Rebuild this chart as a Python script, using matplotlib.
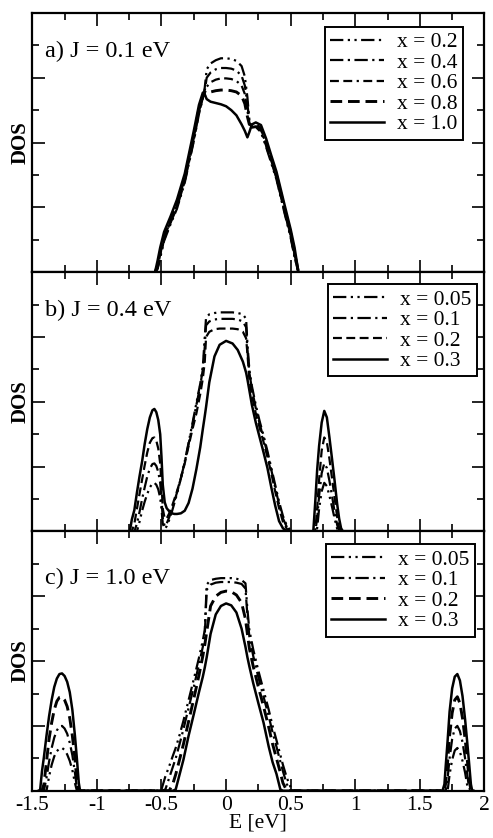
import numpy as np
import matplotlib.pyplot as plt
from matplotlib.ticker import MultipleLocator

plt.rcParams['font.family'] = ['Liberation Serif', 'DejaVu Serif']
plt.rcParams['font.size'] = 15.5
plt.rcParams['axes.unicode_minus'] = False

# ---------------- panel a) J = 0.1 eV ----------------
E_a = [-0.55, -0.53, -0.51, -0.48, -0.43, -0.38, -0.32, -0.25, -0.21, -0.18,
       -0.165, -0.15, -0.12, -0.08, -0.04, 0.0, 0.04, 0.08, 0.12, 0.145,
       0.165, 0.18, 0.20, 0.23, 0.27, 0.31, 0.35, 0.39, 0.45, 0.50,
       0.53, 0.56]
D_a02 = [0, 0.05, 0.22, 0.48, 0.74, 0.98, 1.38, 2.02, 2.44, 2.68,
         2.85, 3.13, 3.22, 3.27, 3.30, 3.30, 3.29, 3.26, 3.18, 3.02,
         2.70, 2.35, 2.23, 2.24, 2.16, 1.93, 1.68, 1.43, 0.93, 0.53,
         0.23, 0]
D_a04 = [0, 0.06, 0.24, 0.50, 0.76, 1.00, 1.40, 2.04, 2.46, 2.69,
         2.80, 3.00, 3.08, 3.13, 3.15, 3.15, 3.14, 3.11, 3.03, 2.88,
         2.60, 2.32, 2.24, 2.25, 2.18, 1.95, 1.70, 1.45, 0.95, 0.55,
         0.25, 0]
D_a06 = [0, 0.08, 0.27, 0.52, 0.78, 1.03, 1.43, 2.07, 2.48, 2.70,
         2.76, 2.86, 2.93, 2.97, 2.99, 2.99, 2.98, 2.95, 2.88, 2.75,
         2.50, 2.30, 2.25, 2.26, 2.20, 1.97, 1.72, 1.47, 0.97, 0.57,
         0.27, 0]
D_a08 = [0, 0.10, 0.30, 0.55, 0.80, 1.06, 1.46, 2.10, 2.52, 2.72,
         2.74, 2.75, 2.78, 2.80, 2.81, 2.81, 2.80, 2.78, 2.72, 2.60,
         2.40, 2.28, 2.27, 2.28, 2.22, 2.00, 1.75, 1.50, 1.00, 0.60,
         0.30, 0]
D_a10 = [0, 0.18, 0.38, 0.62, 0.86, 1.12, 1.52, 2.18, 2.58, 2.77,
         2.74, 2.67, 2.63, 2.61, 2.59, 2.56, 2.50, 2.42, 2.28, 2.18,
         2.08, 2.16, 2.28, 2.31, 2.27, 2.06, 1.80, 1.55, 1.06, 0.66,
         0.38, 0]

# ---------------- panel b) J = 0.4 eV ----------------
E_b = [-0.76, -0.745, -0.73, -0.71, -0.69, -0.67, -0.65, -0.63, -0.61, -0.59,
       -0.57, -0.555, -0.54, -0.525, -0.51, -0.50, -0.49, -0.475, -0.46, -0.44,
       -0.42, -0.40, -0.38, -0.35, -0.32, -0.29, -0.26, -0.23, -0.20, -0.18,
       -0.165, -0.155, -0.13, -0.09, -0.05, 0.0, 0.05, 0.09, 0.13, 0.155,
       0.165, 0.18, 0.20, 0.23, 0.26, 0.29, 0.32, 0.35, 0.38, 0.41,
       0.44, 0.47, 0.50, 0.52, 0.66, 0.675, 0.69, 0.705, 0.72, 0.74,
       0.76, 0.78, 0.80, 0.82, 0.84, 0.86, 0.875, 0.89, 0.905, 0.92]
D_b005 = [0, 0, 0, 0, 0, 0.15, 0.32, 0.46, 0.58, 0.68,
          0.74, 0.75, 0.72, 0.65, 0.52, 0.35, 0.12, 0.04, 0.08, 0.18,
          0.30, 0.44, 0.58, 0.82, 1.08, 1.37, 1.67, 1.98, 2.28, 2.54,
          3.00, 3.30, 3.35, 3.37, 3.38, 3.38, 3.38, 3.37, 3.35, 3.28,
          2.90, 2.50, 2.24, 1.95, 1.70, 1.48, 1.24, 0.98, 0.72, 0.46,
          0.24, 0.09, 0.01, 0, 0, 0, 0, 0.05, 0.35, 0.62,
          0.75, 0.70, 0.55, 0.38, 0.20, 0.04, 0, 0, 0, 0]
D_b01 = [0, 0, 0, 0, 0.12, 0.30, 0.50, 0.68, 0.85, 0.97,
         1.04, 1.05, 1.01, 0.92, 0.75, 0.50, 0.20, 0.08, 0.12, 0.22,
         0.34, 0.47, 0.60, 0.82, 1.07, 1.35, 1.64, 1.95, 2.25, 2.50,
         2.85, 3.18, 3.24, 3.27, 3.28, 3.28, 3.28, 3.27, 3.24, 3.15,
         2.80, 2.45, 2.20, 1.90, 1.66, 1.44, 1.20, 0.95, 0.68, 0.42,
         0.20, 0.07, 0, 0, 0, 0, 0, 0.20, 0.55, 0.90,
         1.05, 0.98, 0.78, 0.55, 0.30, 0.10, 0, 0, 0, 0]
D_b02 = [0, 0, 0, 0.12, 0.35, 0.58, 0.80, 1.02, 1.22, 1.37,
         1.44, 1.45, 1.40, 1.28, 1.05, 0.75, 0.35, 0.20, 0.20, 0.28,
         0.38, 0.50, 0.62, 0.82, 1.05, 1.32, 1.58, 1.82, 2.12, 2.36,
         2.62, 3.00, 3.08, 3.12, 3.13, 3.13, 3.13, 3.12, 3.08, 2.98,
         2.75, 2.35, 2.10, 1.82, 1.60, 1.38, 1.15, 0.90, 0.62, 0.36,
         0.15, 0.04, 0, 0, 0, 0, 0, 0.35, 0.80, 1.25,
         1.45, 1.38, 1.12, 0.82, 0.52, 0.22, 0.05, 0, 0, 0]
D_b03 = [0, 0, 0.18, 0.33, 0.60, 0.85, 1.08, 1.35, 1.58, 1.76,
         1.87, 1.89, 1.84, 1.72, 1.50, 1.15, 0.72, 0.45, 0.36, 0.31,
         0.28, 0.27, 0.27, 0.28, 0.32, 0.44, 0.66, 0.96, 1.30, 1.58,
         1.78, 1.92, 2.30, 2.70, 2.88, 2.94, 2.90, 2.80, 2.62, 2.45,
         2.35, 2.18, 1.95, 1.68, 1.45, 1.22, 0.98, 0.68, 0.40, 0.16,
         0.05, 0, 0, 0, 0, 0, 0.45, 0.95, 1.32, 1.68,
         1.86, 1.76, 1.45, 1.12, 0.78, 0.42, 0.20, 0.05, 0, 0]

# ---------------- panel c) J = 1.0 eV ----------------
E_c_left = [-1.45, -1.44, -1.425, -1.41, -1.39, -1.37, -1.35, -1.33, -1.31, -1.29,
            -1.27, -1.25, -1.23, -1.21, -1.19, -1.17, -1.155, -1.14, -1.13]
E_c_main = [-0.52, -0.50, -0.47, -0.44, -0.41, -0.39, -0.36, -0.33, -0.29, -0.25,
            -0.21, -0.18, -0.165, -0.15, -0.12, -0.08, -0.04, 0.0, 0.04, 0.08,
            0.12, 0.15, 0.165, 0.18, 0.21, 0.25, 0.29, 0.33, 0.36, 0.39,
            0.42, 0.44, 0.47, 0.50, 0.53]
E_c_right = [1.675, 1.69, 1.70, 1.715, 1.73, 1.75, 1.77, 1.79, 1.81, 1.83,
             1.85, 1.865, 1.88, 1.895, 1.905, 1.915]
E_c = E_c_left + E_c_main + E_c_right

D_c005 = ([0, 0, 0, 0, 0, 0.22, 0.40, 0.53, 0.61, 0.65,
           0.66, 0.63, 0.56, 0.46, 0.32, 0.12, 0, 0, 0]
          + [0, 0.02, 0.22, 0.38, 0.55, 0.66, 0.86, 1.08, 1.40, 1.72,
             2.05, 2.32, 2.48, 3.18, 3.25, 3.27, 3.28, 3.28, 3.28, 3.27,
             3.25, 3.20, 2.80, 2.48, 2.18, 1.85, 1.55, 1.25, 1.00, 0.78,
             0.55, 0.40, 0.20, 0.05, 0]
          + [0, 0, 0, 0, 0.25, 0.48, 0.62, 0.66, 0.60, 0.46,
             0.28, 0.10, 0, 0, 0, 0])
D_c01 = ([0, 0, 0, 0, 0.20, 0.45, 0.66, 0.82, 0.93, 0.99,
          1.00, 0.96, 0.88, 0.74, 0.55, 0.28, 0.05, 0, 0]
         + [0, 0, 0.02, 0.20, 0.38, 0.50, 0.72, 0.95, 1.28, 1.60,
            1.95, 2.22, 2.40, 3.10, 3.18, 3.21, 3.22, 3.22, 3.22, 3.21,
            3.19, 3.12, 2.70, 2.38, 2.08, 1.75, 1.45, 1.15, 0.90, 0.68,
            0.45, 0.30, 0.10, 0, 0]
         + [0, 0, 0, 0.20, 0.50, 0.80, 0.96, 1.00, 0.92, 0.75,
            0.50, 0.28, 0.05, 0, 0, 0])
D_c02 = ([0, 0, 0, 0.10, 0.45, 0.80, 1.05, 1.25, 1.38, 1.44,
          1.45, 1.40, 1.30, 1.12, 0.85, 0.50, 0.15, 0, 0]
         + [0, 0, 0, 0, 0.12, 0.25, 0.48, 0.72, 1.07, 1.42,
            1.78, 2.08, 2.25, 2.45, 2.85, 3.00, 3.06, 3.08, 3.07, 3.02,
            2.90, 2.65, 2.42, 2.20, 1.92, 1.60, 1.30, 0.98, 0.72, 0.50,
            0.28, 0.12, 0, 0, 0]
         + [0, 0, 0.12, 0.45, 0.85, 1.20, 1.40, 1.45, 1.35, 1.12,
            0.80, 0.52, 0.20, 0, 0, 0])
D_c03 = ([0, 0, 0.30, 0.52, 0.85, 1.15, 1.40, 1.60, 1.73, 1.80,
          1.81, 1.77, 1.68, 1.52, 1.25, 0.85, 0.50, 0.12, 0]
         + [0, 0, 0, 0, 0, 0.02, 0.25, 0.48, 0.85, 1.18,
            1.52, 1.76, 1.90, 2.06, 2.42, 2.72, 2.85, 2.89, 2.86, 2.75,
            2.50, 2.22, 2.06, 1.92, 1.66, 1.35, 1.05, 0.68, 0.44, 0.26,
            0.02, 0, 0, 0, 0]
         + [0, 0.10, 0.38, 0.78, 1.22, 1.58, 1.76, 1.80, 1.70, 1.46,
            1.10, 0.78, 0.45, 0.10, 0, 0])

labels_a = ['x = 0.2', 'x = 0.4', 'x = 0.6', 'x = 0.8', 'x = 1.0']
labels_bc = ['x = 0.05', 'x = 0.1', 'x = 0.2', 'x = 0.3']
titles = ['a) J = 0.1 eV', 'b) J = 0.4 eV', 'c) J = 1.0 eV']
xtick_labels = ['-1.5', '-1', '-0.5', '0', '0.5', '1', '1.5', '2']

# dash patterns
DDOT = (0, (6, 2, 1, 2, 1, 2))
DDASH = (0, (6, 2, 1, 2))
DDD = (0, (4, 2, 4, 2, 1, 2))
DASH = (0, (4, 2))

fig = plt.figure(figsize=(4.93, 8.38), dpi=100)
left, width, h = 0.0655, 0.9172, 0.3094
bottoms = [0.6752, 0.3658, 0.0564]
axs = [fig.add_axes([left, b, width, h]) for b in bottoms]

panel_data = [
    (E_a, [D_a02, D_a04, D_a06, D_a08, D_a10], labels_a,
     [(DDOT, 1.6), (DDASH, 1.6), (DDD, 1.6), (DASH, 2.1), ('-', 1.8)]),
    (E_b, [D_b005, D_b01, D_b02, D_b03], labels_bc,
     [(DDOT, 1.6), (DDASH, 1.6), (DASH, 1.6), ('-', 1.8)]),
    (E_c, [D_c005, D_c01, D_c02, D_c03], labels_bc,
     [(DDOT, 1.6), (DDASH, 1.6), (DASH, 2.1), ('-', 1.8)]),
]
text_y = [0.85, 0.853, 0.818]
leg_anchor = [(0.952, 0.946), (0.983, 0.954), (0.979, 0.95)]

for i, ax in enumerate(axs):
    E, curves, labels, styles = panel_data[i]
    for D, lab, (ls, lw) in zip(curves, labels, styles):
        ax.plot(E, D, color='black', linestyle=ls, linewidth=lw, label=lab)

    ax.set_xlim(-1.5, 2)
    ax.set_ylim(0, 4)
    ax.xaxis.set_major_locator(MultipleLocator(0.5))
    ax.xaxis.set_minor_locator(MultipleLocator(0.25))
    ax.yaxis.set_major_locator(MultipleLocator(1))
    ax.yaxis.set_minor_locator(MultipleLocator(0.5))
    ax.tick_params(which='both', direction='in', top=True, right=True, width=1.2)
    ax.tick_params(which='major', length=9)
    ax.tick_params(which='minor', length=5)
    ax.tick_params(axis='x', pad=4)
    ax.set_yticklabels([])
    for s in ax.spines.values():
        s.set_linewidth(1.6)
    ax.set_ylabel('DOS', labelpad=-2, fontweight='bold', fontsize=15)

    ax.text(0.028, text_y[i], titles[i], transform=ax.transAxes,
            ha='left', va='center', fontsize=17.5)

    leg = ax.legend(loc='upper right', bbox_to_anchor=leg_anchor[i],
                    frameon=True, fancybox=False, framealpha=1,
                    edgecolor='black', borderpad=0.25, labelspacing=0.02,
                    handlelength=2.5, handletextpad=0.6, borderaxespad=0,
                    fontsize=15.5)
    leg.get_frame().set_linewidth(1.4)

    if i < 2:
        ax.set_xticklabels([])
    else:
        ax.set_xticks([-1.5, -1, -0.5, 0, 0.5, 1, 1.5, 2])
        ax.set_xticklabels(xtick_labels)
        ax.set_xlabel('E [eV]', labelpad=-1)

fig.savefig('out.png', dpi=100)
